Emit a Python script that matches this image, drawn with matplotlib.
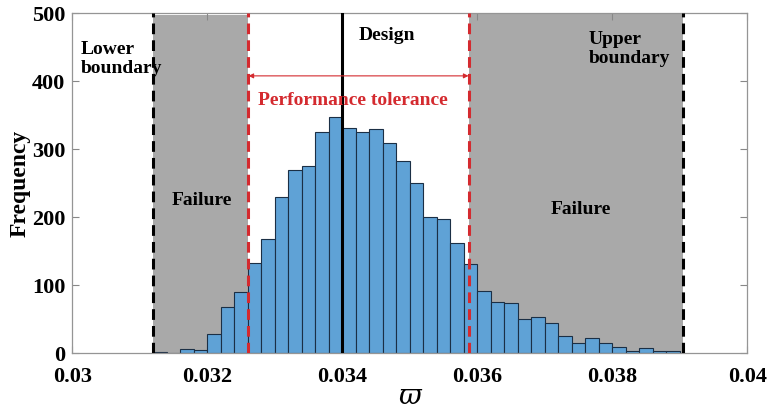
#Histogram of the sampled parameter with failure zones and performance tolerance band.

import matplotlib
matplotlib.use('Agg')
import matplotlib.pyplot as plt
import numpy as np

#histogram counts (bin width 0.0002 starting at 0.0312)
bin_start = 0.0312
bin_width = 0.0002
counts = [2, 0, 6, 5, 29, 68, 90, 133, 168, 230,
          269, 275, 326, 347, 331, 325, 330, 310, 283, 250,
          200, 198, 162, 132, 91, 75, 74, 51, 54, 45,
          25, 15, 22, 15, 10, 4, 8, 3, 3]

#reference values on the x axis
lower_boundary = 0.03120
upper_boundary = 0.03905
tol_low = 0.03261
tol_high = 0.03587
design = 0.0340

x_ticks = [0.03, 0.032, 0.034, 0.036, 0.038, 0.04]
x_tick_labels = ['0.03', '0.032', '0.034', '0.036', '0.038', '0.04']
y_ticks = [0, 100, 200, 300, 400, 500]

serif = ['Liberation Serif', 'DejaVu Serif']
plt.rcParams['font.family'] = serif

fig = plt.figure(figsize=(7.67, 4.16), dpi=100)
ax = fig.add_axes([0.0943, 0.1507, 0.8800, 0.8173])

#grey failure zones
ax.axvspan(lower_boundary, tol_low, ymin=0, ymax=0.995, color='#a9a9a9', zorder=1, lw=0)
ax.axvspan(tol_high, upper_boundary, color='#a9a9a9', zorder=1, lw=0)

#histogram bars
edges = bin_start + bin_width * np.arange(len(counts))
ax.bar(edges, counts, width=bin_width, align='edge', color='#5fa2d6',
       edgecolor='#1b2f45', linewidth=0.8, zorder=2)

#boundary and design lines
ax.axvline(lower_boundary, color='black', ls=(0, (3.5, 2)), lw=2.2, zorder=3)
ax.axvline(upper_boundary, color='black', ls=(0, (3.5, 2)), lw=2.2, zorder=3)
ax.axvline(tol_low, color='#d42a2f', ls=(0, (3.5, 2)), lw=2.2, zorder=3)
ax.axvline(tol_high, color='#d42a2f', ls=(0, (3.5, 2)), lw=2.2, zorder=3)
ax.axvline(design, color='black', lw=2.2, zorder=3)

#tolerance arrow
ax.annotate('', xy=(tol_low, 408), xytext=(tol_high, 408),
            arrowprops=dict(arrowstyle='<|-|>', color='#d42a2f', lw=0.8,
                            mutation_scale=7, shrinkA=0, shrinkB=0), zorder=4)

#texts
bold = dict(fontweight='bold', fontsize=14)
ax.text(0.03013, 433, 'Lower\nboundary', ha='left', va='center', linespacing=1.15, **bold)
ax.text(0.03424, 467, 'Design', ha='left', va='center', **bold)
ax.text(0.03765, 447, 'Upper\nboundary', ha='left', va='center', linespacing=1.15, **bold)
ax.text(0.03192, 225, 'Failure', ha='center', va='center', **bold)
ax.text(0.03753, 211, 'Failure', ha='center', va='center', **bold)
ax.text(0.03275, 372, 'Performance tolerance', ha='left', va='center',
        color='#d42a2f', fontweight='bold', fontsize=14)

#axes
ax.set_xlim(0.03, 0.04)
ax.set_ylim(0, 500)
ax.set_xticks(x_ticks)
ax.set_xticklabels(x_tick_labels)
ax.set_yticks(y_ticks)
ax.tick_params(direction='in', top=True, right=True, length=5, width=0.8,
               color='#888888', labelsize=16)
ax.tick_params(axis='x', pad=10)
ax.tick_params(axis='y', pad=5)
for lab in ax.get_xticklabels() + ax.get_yticklabels():
    lab.set_fontweight('bold')
for sp in ax.spines.values():
    sp.set_color('#959595')
    sp.set_linewidth(0.9)

ax.set_ylabel('Frequency', fontsize=17, fontweight='bold', labelpad=1)
ax.set_xlabel('\u03d6', fontsize=20, family=['DejaVu Serif'], style='italic', labelpad=-3)

fig.savefig('out.png', dpi=100)
